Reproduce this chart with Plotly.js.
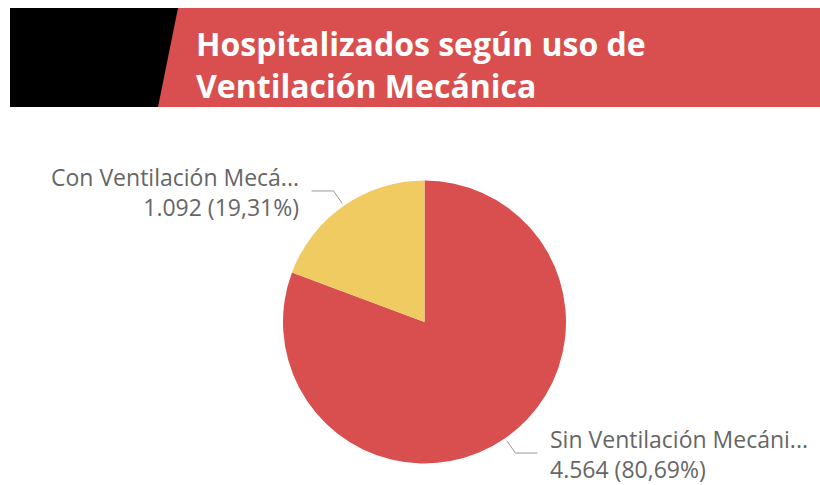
<!DOCTYPE html>
<html>
<head>
<meta charset="utf-8">
<script src="https://cdn.plot.ly/plotly-3.0.1.min.js"></script>
<style>html,body{margin:0;padding:0;background:#fff;}#chart{width:820px;height:485px;}</style>
</head>
<body>
<div id="chart"></div>
<script>
// Data (drawn clockwise from 12 o'clock)
const categories = ['Sin Ventilación Mecánica', 'Con Ventilación Mecánica'];
const shortLabels = ['Sin Ventilación Mecáni...', 'Con Ventilación Mecá...'];
const values = [4564, 1092];
const colors = ['#D94F4F', '#EFCB62'];
const titleText = 'Hospitalizados según uso de<br>Ventilación Mecánica';

const W = 820, H = 485;
const px = x => x / W;
const py = y => 1 - y / H;

// Pie geometry (pixels)
const cx = 424.5, cy = 322, R = 141.5;

function fmtInt(n) { return String(n).replace(/\B(?=(\d{3})+(?!\d))/g, '.'); }
const total = values.reduce((a, b) => a + b, 0);
function fmtPct(v) { return (v / total * 100).toFixed(2).replace('.', ',') + '%'; }

const shapes = [];
const annotations = [];

// Header
shapes.push({type: 'path', xref: 'paper', yref: 'paper', layer: 'below',
  path: `M ${px(177)},${py(8)} L ${px(820)},${py(8)} L ${px(820)},${py(107)} L ${px(157)},${py(107)} Z`,
  fillcolor: '#D94F4F', line: {width: 0}});
shapes.push({type: 'path', xref: 'paper', yref: 'paper', layer: 'below',
  path: `M ${px(10)},${py(8)} L ${px(178)},${py(8)} L ${px(158)},${py(107)} L ${px(10)},${py(107)} Z`,
  fillcolor: '#000000', line: {width: 0}});

// Leader lines and labels computed from data (clockwise from 12 o'clock)
let start = 90;
values.forEach((v, i) => {
  const sweep = v / total * 360;
  const mid = (start - sweep / 2) * Math.PI / 180;
  start -= sweep;
  const c = Math.cos(mid), s = Math.sin(mid);
  const x0 = cx + (R + 3) * c, y0 = cy - (R + 3) * s;
  const x1 = cx + (R + 18) * c, y1 = cy - (R + 18) * s;
  const dir = c >= 0 ? 1 : -1;
  const x2 = x1 + dir * 22;
  shapes.push({type: 'path', xref: 'paper', yref: 'paper',
    path: `M ${px(x0)},${py(y0)} L ${px(x1)},${py(y1)} L ${px(x2)},${py(y1)}`,
    line: {color: '#9a9a9a', width: 1}});
  const tx = x2 + dir * 11;
  const anchor = dir > 0 ? 'left' : 'right';
  annotations.push({xref: 'paper', yref: 'paper', x: px(tx), y: py(y1 + 1), xanchor: anchor, yanchor: 'middle',
    align: anchor,
    text: shortLabels[i] + '<br>' + fmtInt(v) + ' (' + fmtPct(v) + ')', showarrow: false,
    font: {family: 'Open Sans', size: 23, color: '#666666'}});
});

const trace = {
  type: 'pie',
  labels: categories,
  values: values,
  marker: {colors: colors, line: {width: 0}},
  sort: false,
  direction: 'clockwise',
  rotation: 0,
  textinfo: 'none',
  hoverinfo: 'label+value+percent',
  showlegend: false,
  domain: {x: [px(cx - R), px(cx + R)], y: [py(cy + R), py(cy - R)]}
};

const layout = {
  width: W, height: H,
  margin: {l: 0, r: 0, t: 0, b: 0},
  paper_bgcolor: '#ffffff',
  plot_bgcolor: '#ffffff',
  title: {text: titleText, x: px(196), xanchor: 'left', xref: 'paper', y: py(56), yanchor: 'middle', yref: 'paper',
    font: {family: 'Open Sans', size: 32, color: '#ffffff', weight: 700}},
  shapes: shapes,
  annotations: annotations
};

Plotly.newPlot('chart', [trace], layout, {displayModeBar: false, staticPlot: true});
</script>
</body>
</html>
